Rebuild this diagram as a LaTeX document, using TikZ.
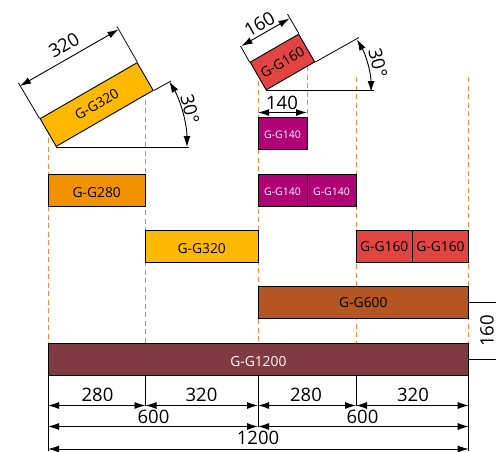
\documentclass[tikz,border=0pt]{standalone}
\usepackage{fontspec}
\setmainfont{Open Sans}
\usetikzlibrary{arrows.meta}

\definecolor{barYellow}{HTML}{FFB900}
\definecolor{barOrange}{HTML}{F39200}
\definecolor{barPurple}{HTML}{AF0076}
\definecolor{barRed}{HTML}{E24444}
\definecolor{barBrown}{HTML}{B35621}
\definecolor{barMaroon}{HTML}{803A42}
\definecolor{guideOrange}{HTML}{F08A3C}

\tikzset{
  bar/.style = {draw = black, line width = 0.9pt, inner sep = 0pt, font = \fontsize{13.8}{15}\selectfont, minimum height = 32pt, text height = 10pt, text depth = 0pt},
  lowbar/.style = {text height = 14pt},
  smallbar/.style = {fill = barPurple, text = white, minimum width = 49pt, font = \fontsize{10.5}{12}\selectfont, text height = 10pt},
  guide/.style = {guideOrange, line width = 0.9pt, dash pattern = on 5pt off 3.5pt},
  extline/.style = {line width = 0.8pt},
  dimline/.style = {line width = 0.9pt, {Latex[length = 11pt, width = 7pt]}-{Latex[length = 11pt, width = 7pt]}},
  dimtext/.style = {font = \fontsize{18.5}{20}\selectfont, inner sep = 0pt}
}

\begin{document}
\begin{tikzpicture}[x = 1pt, y = -1pt]
  \useasboundingbox (0, 0) rectangle (496, 451);

  % guides behind the bars
  \draw[guide] (48, 138) -- (48, 343);
  \draw[guide] (145.5, 91) -- (145.5, 343);
  \draw[guide] (258, 81) -- (258, 343);
  \draw[guide] (307, 66) -- (307, 118);
  \draw[guide] (356, 77) -- (356, 343);
  \draw[guide] (468.7, 77) -- (468.7, 343);

  % bars
  \node[bar, lowbar, fill = barOrange, minimum width = 97.5pt] (g280) at (96.75, 190) {G-G280};
  \node[bar, lowbar, fill = barYellow, minimum width = 112.5pt] (g320) at (201.75, 246.5) {G-G320};
  \node[bar, smallbar] (g140a) at (282.5, 133.5) {G-G140};
  \node[bar, smallbar] (g140b) at (282.5, 190) {G-G140};
  \node[bar, smallbar] (g140c) at (331.5, 190) {G-G140};
  \node[bar, fill = barRed, minimum width = 56.35pt] (g160a) at (384.2, 246.5) {G-G160};
  \node[bar, fill = barRed, minimum width = 56.35pt] (g160b) at (440.5, 246.5) {G-G160};
  \node[bar, fill = barBrown, minimum width = 210.7pt] (g600) at (363.35, 302.5) {G-G600};
  \node[bar, lowbar, fill = barMaroon, text = white, minimum width = 420.7pt] (g1200) at (258.35, 359) {G-G1200};

  % tilted bars
  \node[bar, fill = barYellow, rotate = 30, anchor = south west, minimum width = 112pt] (g320t) at (56, 147) {G-G320};
  \node[bar, fill = barRed, rotate = 30, anchor = south west, minimum width = 56pt] (g160t) at (266, 90.5) {G-G160};

  % left tilted bar
  \coordinate (A1) at (18.5, 83);
  \coordinate (A2) at (117, 26.5);
  \coordinate (A3) at (171, 81);
  \coordinate (A4) at (189, 147);
  \draw[extline] (g320t.north west) -- (A1);
  \draw[extline] (g320t.north east) -- (A2);
  \draw[extline] (g320t.south east) -- (A3);
  \draw[extline] (g320t.south west) -- (A4);
  \draw[dimline] (20, 86) -- (118.5, 29.5);
  \node[dimtext, rotate = 30] (d320t) at (64, 45) {320};
  \draw[dimline] (169.4, 81.5) arc[start angle = -30, end angle = 0, radius = 131];
  \node[dimtext, rotate = -76] (a320) at (190, 109) {30°};

  % right tilted bar
  \coordinate (B1) at (240.5, 46);
  \coordinate (B2) at (287.5, 14);
  \coordinate (B3) at (359, 37.5);
  \coordinate (B4) at (373.5, 90.5);
  \draw[extline] (g160t.north west) -- (B1);
  \draw[extline] (g160t.north east) -- (B2);
  \draw[extline] (g160t.south east) -- (B3);
  \draw[extline] (g160t.south west) -- (B4);
  \draw[dimline] (241.5, 46) -- (289.5, 18.5);
  \node[dimtext, rotate = 30] (d160t) at (259.5, 24) {160};
  \draw[dimline] (357, 39.5) arc[start angle = -30, end angle = 0, radius = 105];
  \node[dimtext, rotate = -76] (a160) at (378, 63) {30°};

  % width of the single bar
  \draw[dimline] (258, 112.5) -- (307, 112.5);
  \node[dimtext] (d140) at (282, 102.5) {140};

  % height at the right
  \coordinate (H1) at (496, 302.5);
  \coordinate (H2) at (496, 359);
  \draw[extline] (468.7, 302.5) -- (H1);
  \draw[extline] (468.7, 359) -- (H2);
  \node[dimtext, rotate = 90] (d160h) at (487, 331) {160};

  % dimension lines at the bottom
  \draw[line width = 1pt] (48, 375) -- (48, 451);
  \draw[extline] (145.5, 375) -- (145.5, 405.5);
  \draw[line width = 1pt] (258, 375) -- (258, 427);
  \draw[extline] (356, 375) -- (356, 405.5);
  \draw[line width = 1pt] (468.7, 375) -- (468.7, 451);

  \draw[dimline] (48, 405.5) -- (145.5, 405.5);
  \draw[dimline] (145.5, 405.5) -- (258, 405.5);
  \draw[dimline] (258, 405.5) -- (356, 405.5);
  \draw[dimline] (356, 405.5) -- (468.7, 405.5);
  \draw[dimline] (48, 426.5) -- (258, 426.5);
  \draw[dimline] (258, 426.5) -- (468.7, 426.5);
  \draw[dimline] (48, 449) -- (468.7, 449);

  \node[dimtext] (w280a) at (97.5, 395) {280};
  \node[dimtext] (w320a) at (201.5, 395) {320};
  \node[dimtext] (w280b) at (306, 395) {280};
  \node[dimtext] (w320b) at (413, 395) {320};
  \node[dimtext] (w600a) at (153.5, 417) {600};
  \node[dimtext] (w600b) at (362.5, 417) {600};
  \node[dimtext] (w1200) at (258, 438) {1200};
\end{tikzpicture}
\end{document}
